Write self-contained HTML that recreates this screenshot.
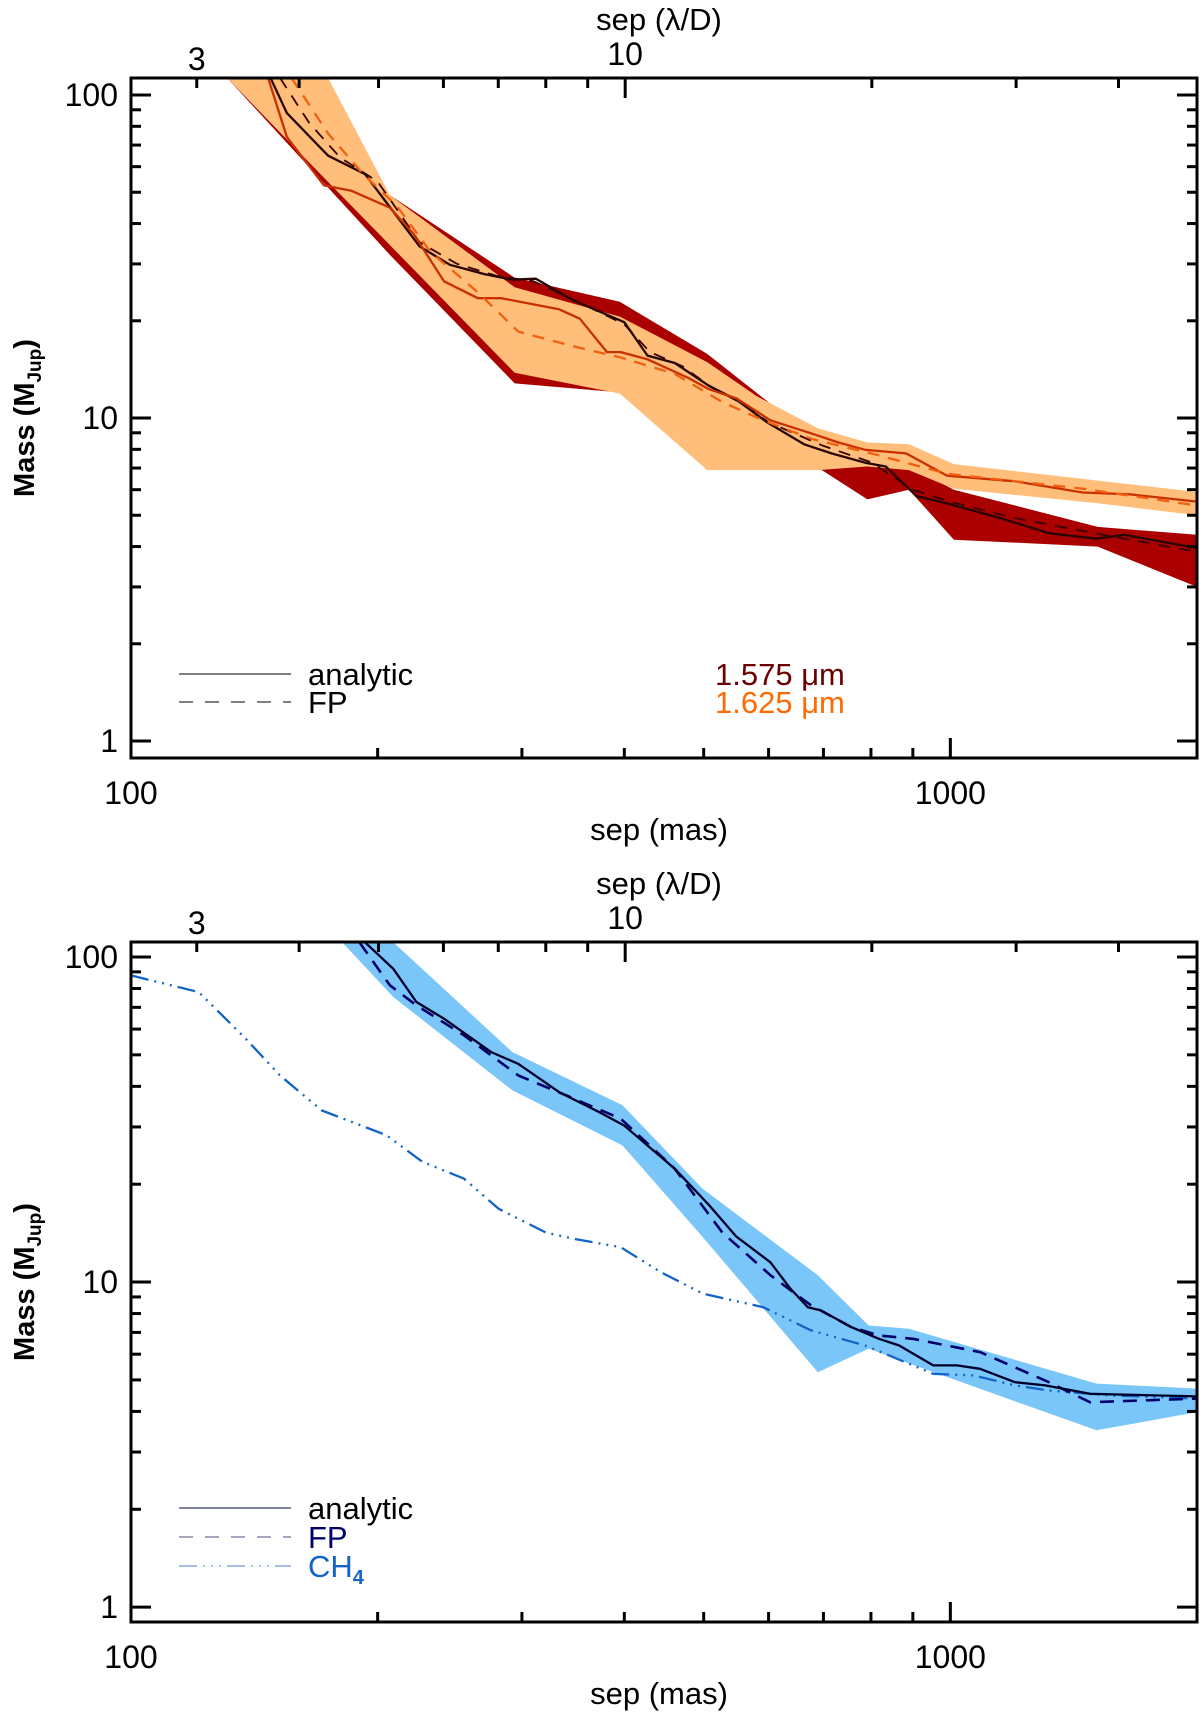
<!DOCTYPE html>
<html><head><meta charset="utf-8"><style>
html,body{margin:0;padding:0;background:#fff;}
svg{display:block;font-family:"Liberation Sans","DejaVu Sans",sans-serif;}
</style></head><body>
<svg id="fig" width="1200" height="1721" viewBox="0 0 1200 1721" xmlns="http://www.w3.org/2000/svg"></svg>
<script>
// ---- Top panel data ----
var darkSep = [131,207,294,395,505,697,792,890,1010,1513,2000];
var darkUpper = [183,49,27.2,22.9,15.8,8.3,7.2,7.1,6.0,4.6,4.35];
var darkLower = [113,32,12.8,12.0,7.5,6.9,5.6,6.0,4.2,4.0,3.0];
var orSep = [131,174,207,294,395,505,580,689,792,890,1010,1513,2000];
var orUpper = [250,113,49,25.4,20.6,14.9,11.7,9.3,8.4,8.3,7.2,6.4,5.9];
var orLower = [113,53.8,34.3,13.8,11.9,6.9,6.9,6.9,7.08,6.9,6.04,5.45,5.0];
var anaDarkSep = [148,155,174,193,225,245,270,292,312,346,400,427,461,507,548,597,663,716,787,834,909,991,1154,1319,1508,1628,2000];
var anaDarkMass = [113,87.9,64.9,56.9,34.0,29.8,27.9,26.8,27.0,23.2,19.8,15.6,14.8,12.6,11.4,9.71,8.29,7.77,7.27,7.08,5.73,5.44,4.89,4.40,4.23,4.35,3.96];
var fpDarkSep = [152,165,180,200,225,250,280,310,350,400,430,470,510,560,600,700,800,900,1000,1200,1500,2000];
var fpDarkMass = [113,82,64,54,35,30,27.5,26.5,23.0,19.5,16.0,14.5,12.5,11.0,9.7,8.2,7.3,6.0,5.5,4.9,4.4,3.85];
var anaOrSep = [147,155,172,186,207,221,241,265,283,333,353,381,396,427,479,507,548,603,676,730,787,883,991,1199,1451,1659,2000];
var anaOrMass = [113,74.1,52.5,50.5,44.8,37.3,26.5,23.5,23.5,21.7,20.3,16.0,16.0,15.2,13.3,12.3,11.5,9.84,8.97,8.40,7.97,7.77,6.63,6.37,5.88,5.80,5.51];
var fpOrSep = [157,174,192,211,232,265,297,346,396,461,527,591,676,818,991,1451,2000];
var fpOrMass = [113,76.0,56.9,45.4,32.7,24.5,18.5,16.7,15.4,13.7,11.2,9.84,8.63,7.66,6.72,6.04,5.36];
// ---- Bottom panel data ----
var blueSep = [181,209,292,398,498,689,795,890,1508,2000];
var blueUpper = [150,111,51.0,35.0,19.4,10.5,7.35,7.18,4.87,4.70];
var blueLower = [111,75.3,38.9,26.3,13.8,5.28,6.24,5.62,3.50,3.98];
var anaBSep = [193,209,223,241,275,297,333,373,400,427,461,508,548,603,638,670,695,757,818,866,953,1019,1087,1199,1306,1480,2000];
var anaBMass = [111,92.0,72.7,64.6,51.0,46.9,38.4,33.3,30.3,26.3,22.3,17.2,13.8,11.5,9.54,8.37,8.18,7.27,6.69,6.38,5.54,5.54,5.41,4.92,4.81,4.53,4.45];
var fpBSep = [190,207,223,255,297,340,396,461,527,603,676,757,818,900,1087,1319,1480,2000];
var fpBMass = [111,81.8,71.0,57.4,43.2,37.5,31.8,22.3,14.2,10.5,8.48,7.27,6.85,6.69,6.09,4.92,4.27,4.38];
var ch4Sep = [100,121,138,152,171,205,227,255,281,321,346,396,444,499,591,676,787,953,1069,1199,1319,1562,2000];
var ch4Mass = [87.8,78.0,56.1,43.2,33.7,28.3,23.4,20.8,16.8,14.2,13.6,12.8,10.7,9.21,8.37,7.10,6.38,5.22,5.16,4.81,4.64,4.48,4.38];
// ticks
var yTickLabels = ["1","10","100"];
var xTickLabels = ["100","1000"];
var ldTicks = [3,4,5,6,7,8,9,10,20,30,40];
var ldLabels = ["3","10"];

var NS = "http://www.w3.org/2000/svg";
var svg = document.getElementById('fig');
function mk(tag, attrs, parent){var e=document.createElementNS(NS,tag);for(var k in attrs)e.setAttribute(k,attrs[k]);(parent||svg).appendChild(e);return e;}

function panel(cfg){
  var L=131,R=1197,T=cfg.top,B=cfg.bottom;
  var ymin=cfg.ymin,ymax=cfg.ymax;
  var g=mk('g',{});
  
  
  function X(s){return L+(Math.log10(s)-2)/(Math.log10(2000)-2)*(R-L);}
  function Y(m){return B-(Math.log10(m)-Math.log10(ymin))/(Math.log10(ymax)-Math.log10(ymin))*(B-T);}
  var cid='clip'+cfg.name;
  var cp=mk('clipPath',{id:cid},g); mk('rect',{x:L,y:T,width:R-L,height:B-T},cp);
  var pg=mk('g',{'clip-path':'url(#'+cid+')'},g);
  function band(sep,up,lo,color,name){
    var d='';for(var i=0;i<sep.length;i++)d+=(i?'L':'M')+X(sep[i]).toFixed(1)+' '+Y(up[i]).toFixed(1);
    for(var j=sep.length-1;j>=0;j--)d+='L'+X(sep[j]).toFixed(1)+' '+Y(lo[j]).toFixed(1);
    var p=mk('path',{d:d+'Z',fill:color,stroke:'none'},pg);
    
    
  }
  function line(sep,m,color,w,dash,name){
    var d='';for(var i=0;i<sep.length;i++)d+=(i?'L':'M')+X(sep[i]).toFixed(1)+' '+Y(m[i]).toFixed(1);
    var a={d:d,fill:'none',stroke:color,'stroke-width':w,'stroke-linejoin':'round'};
    if(dash)a['stroke-dasharray']=dash;
    var p=mk('path',a,pg);
    
    
  }
  cfg.draw(band,line);
  var fr=mk('rect',{x:L,y:T,width:R-L,height:B-T,fill:'none',stroke:'#000','stroke-width':3},g);
  
  
  var tk=mk('g',{stroke:'#000','stroke-width':3},g);
  for(var dec=0;dec<=2;dec++){for(var k=1;k<=9;k++){var v=k*Math.pow(10,dec);if(v<ymin||v>ymax)continue;var y=Y(v);var len=(k==1)?20:10;
    mk('line',{x1:L,x2:L+len,y1:y,y2:y},tk);mk('line',{x1:R,x2:R-len,y1:y,y2:y},tk);}}
  for(var i=0;i<yTickLabels.length;i++){var v=parseFloat(yTickLabels[i]);
    var t=mk('text',{x:118,y:Y(v)+11,'text-anchor':'end','font-size':32,fill:'#000'},g);t.textContent=yTickLabels[i];
    
    }
  var xs=[100,200,300,400,500,600,700,800,900,1000,2000];
  for(var i2=0;i2<xs.length;i2++){var x=X(xs[i2]);var len2=(xs[i2]==100||xs[i2]==1000)?20:10;mk('line',{x1:x,x2:x,y1:B,y2:B-len2},tk);}
  for(var i3=0;i3<xTickLabels.length;i3++){var t2=mk('text',{x:X(parseFloat(xTickLabels[i3])),y:B+46,'text-anchor':'middle','font-size':32,fill:'#000'},g);t2.textContent=xTickLabels[i3];
    
    }
  for(var i4=0;i4<ldTicks.length;i4++){var x4=X(ldTicks[i4]*40.1);var len4=(ldTicks[i4]==10)?20:10;mk('line',{x1:x4,x2:x4,y1:T,y2:T+len4},tk);}
  for(var i5=0;i5<ldLabels.length;i5++){var lv=parseFloat(ldLabels[i5]);var t3=mk('text',{x:X(lv*40.1),y:T-(lv==10?13:8),'text-anchor':'middle','font-size':32,fill:'#000'},g);t3.textContent=ldLabels[i5];
    
    }
  var tt=mk('text',{x:659,y:T-48,'text-anchor':'middle','font-size':31,fill:'#000'},g);tt.textContent='sep (λ/D)';
  
  
  var bt=mk('text',{x:659,y:B+82,'text-anchor':'middle','font-size':31,fill:'#000'},g);bt.textContent='sep (mas)';
  
  
  var cy=(T+B)/2;
  var yt=mk('text',{x:0,y:0,'text-anchor':'middle','font-size':29,'font-weight':'bold',fill:'#000',transform:'translate(34,'+cy+') rotate(-90)'},g);
  
  
  var s1=mk('tspan',{},yt);s1.textContent='Mass (M';
  var s2=mk('tspan',{'font-size':19,dy:7},yt);s2.textContent='Jup';
  var s3=mk('tspan',{dy:-7},yt);s3.textContent=')';
  cfg.legend(g);
}

function legRow(g,y,color,dash,label,tcolor,name,x2){
  var a={x1:179,x2:x2||291,y1:y-11,y2:y-11,stroke:color,'stroke-width':1.5};
  if(dash)a['stroke-dasharray']=dash;
  var l=mk('line',a,g);
  
  
  var t=mk('text',{x:308,y:y,'font-size':31,fill:tcolor},g);
  
  
  return t;
}

panel({name:'top-panel',top:78,bottom:758,ymin:0.886,ymax:112.9,
  draw:function(band,line){
    band(darkSep,darkUpper,darkLower,'#aa0000','band-1575');
    band(orSep,orUpper,orLower,'#ffbe7a','band-1625');
    line(fpDarkSep,fpDarkMass,'#3a0000',1.8,'12 9','fp-1575');
    line(anaDarkSep,anaDarkMass,'#2a0505',2.3,null,'analytic-1575');
    line(anaOrSep,anaOrMass,'#c83000',2.3,null,'analytic-1625');
    line(fpOrSep,fpOrMass,'#f06010',2.3,'12 9','fp-1625');
  },
  legend:function(g){
    legRow(g,685,'#555',null,'analytic','#000','analytic').textContent='analytic';
    legRow(g,713,'#555','14 12','FP','#000','fp').textContent='FP';
    var a=mk('text',{x:715,y:685,'font-size':31,fill:'#6b0000'},g);a.textContent='1.575 μm';
    
    
    var b=mk('text',{x:715,y:713,'font-size':31,fill:'#ff6a00'},g);b.textContent='1.625 μm';
    
    
  }
});

panel({name:'bottom-panel',top:942,bottom:1622,ymin:0.9,ymax:111.2,
  draw:function(band,line){
    band(blueSep,blueUpper,blueLower,'#7ac6f8','band-h');
    line(ch4Sep,ch4Mass,'#1464c8',2.3,'18 6 2 6 2 6 2 6','ch4');
    line(fpBSep,fpBMass,'#00006a',2.6,'14 9','fp-h');
    line(anaBSep,anaBMass,'#00002a',2.3,null,'analytic-h');
  },
  legend:function(g){
    legRow(g,1519,'#555a80',null,'analytic','#000','analytic').textContent='analytic';
    legRow(g,1548,'#8888aa','14 12','FP','#00006a','fp').textContent='FP';
    var t=legRow(g,1577,'#88aadd','18 6 2 6 2 6 2 6','CH4','#1464c8','ch4');
    var a=mk('tspan',{},t);a.textContent='CH';
    var b=mk('tspan',{'font-size':20,dy:7,'font-weight':'bold'},t);b.textContent='4';
  }
});
</script>
</body></html>
